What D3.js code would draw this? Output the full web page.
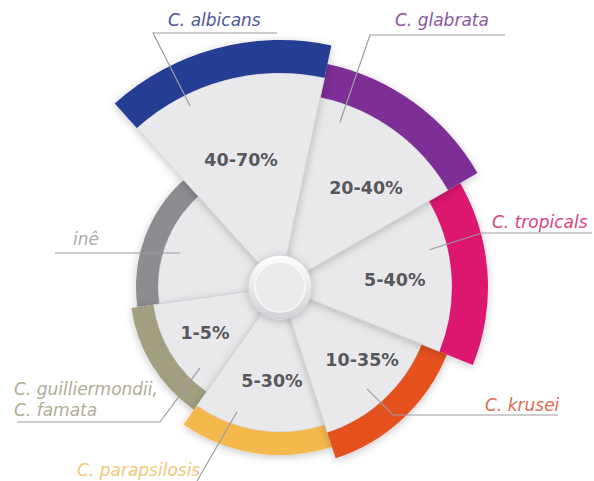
<!DOCTYPE html>
<html lang="sk">
<head>
<meta charset="utf-8">
<title>Candida</title>
<script src="https://cdn.jsdelivr.net/npm/d3@7"></script>
<style>
  html, body { margin: 0; padding: 0; background: #fff; }
  svg { display: block; }
  .pct { font-family: "DejaVu Sans"; font-weight: bold; font-size: 17.5px; fill: #58585c; }
  .name { font-family: "DejaVu Sans"; font-style: italic; font-weight: 300; font-size: 17px; }
  .leader { stroke: #9c9ca0; stroke-width: 1.2; fill: none; }
</style>
</head>
<body>
<svg width="594" height="481"></svg>
<script>
// --- data ---
const species = ["C. albicans", "C. glabrata", "C. tropicals", "C. krusei",
                 "C. parapsilosis", "C. guilliermondii,|C. famata", "inê"];
const ranges = ["40-70%", "20-40%", "5-40%", "10-35%", "5-30%", "1-5%", ""];
// slice bounds, degrees clockwise from 12 o'clock
const startDeg = [-42, 12, 60, 112, 162, 215, 262];
const endDeg   = [12, 60, 112, 162, 215, 262, 318];
// ring edges in radial units (0..100)
const ringOuter = [98.8, 91.2, 83.2, 72, 67.2, 60, 57.6];
const ringInner = [85.6, 77.6, 68.8, 61.2, 58, 51.2, 48.8];
const ringColor = ["#263e94", "#7d2d97", "#dd1470", "#e4511e", "#f5b84e", "#a29e80", "#8b8d90"];
const nameColor = ["#4b5597", "#8a56a0", "#d8427f", "#e06a4e", "#f0c878", "#b0ac95", "#a9abae"];

// --- layout of the annotations ---
const cx = 280, cy = 287;
const labelDeg = [-17, 41, 86.5, 131.7, 184.9, 238.5, 0];
const labelR   = [53.2, 52.4, 46, 44, 37.6, 35.2, 0];
const nameAt = [[168, 26], [395, 26], [492, 228], [485, 411], [77, 476], [14, 395], [73, 245]];
const elbow  = [[153, 33], [370, 35], [482, 233], [393, 415], [197, 481], [160, 422], [180, 253]];
const runTo  = [277, 505, 592, 558, null, 17, 55];
const pointerDeg = [-26.4, 20, 76, 139.5, 199, 224.6, 288.8];
const pointerR   = [80.8, 70, 61.6, 53.6, 52.8, 45.6, 42.4];

const svg = d3.select("svg");
const r = d3.scaleLinear().domain([0, 100]).range([0, 250]);
const ang = d3.scaleLinear().domain([0, 360]).range([0, 2 * Math.PI]);

const defs = svg.append("defs");
const sh = defs.append("filter").attr("id", "shadow")
  .attr("x", "-30%").attr("y", "-30%").attr("width", "160%").attr("height", "160%");
sh.append("feDropShadow").attr("dx", 0).attr("dy", 2).attr("stdDeviation", 4)
  .attr("flood-color", "#000").attr("flood-opacity", 0.22);

const btn = defs.append("linearGradient").attr("id", "btn")
  .attr("x1", 0).attr("y1", 0).attr("x2", 0).attr("y2", 1);
btn.append("stop").attr("offset", "0%").attr("stop-color", "#ffffff");
btn.append("stop").attr("offset", "100%").attr("stop-color", "#d2d2d6");

const g = svg.append("g").attr("transform", `translate(${cx},${cy})`);

const slices = species.map((s, i) => ({
  i: i,
  a0: ang(startDeg[i]),
  a1: ang(endDeg[i]),
  inner: r(ringInner[i]),
  outer: r(ringOuter[i])
}));

// draw from the smallest ring up so the big slices sit on top
const order = d3.range(slices.length).reverse();
const arc = d3.arc();

order.forEach(i => {
  const d = slices[i];
  const sg = g.append("g").attr("filter", "url(#shadow)");
  sg.append("path")
    .attr("d", arc({innerRadius: 0, outerRadius: d.inner, startAngle: d.a0, endAngle: d.a1}))
    .attr("fill", "#e9e9ec")
    .attr("stroke", "#cfcfd3")
    .attr("stroke-width", 0.8);
  sg.append("path")
    .attr("d", arc({innerRadius: d.inner, outerRadius: d.outer, startAngle: d.a0, endAngle: d.a1}))
    .attr("fill", ringColor[i]);
});

// percentage labels
slices.forEach(d => {
  if (!ranges[d.i]) return;
  const p = d3.pointRadial(ang(labelDeg[d.i]), r(labelR[d.i]));
  g.append("text").attr("class", "pct")
    .attr("x", p[0]).attr("y", p[1])
    .attr("text-anchor", "middle")
    .attr("dominant-baseline", "central")
    .text(ranges[d.i]);
});

// centre button
g.append("circle").attr("r", 32).attr("fill", "url(#btn)")
  .attr("stroke", "#d0d0d4").attr("filter", "url(#shadow)");
g.append("circle").attr("r", 25).attr("fill", "#ebebee")
  .attr("stroke", "#f9f9f9").attr("stroke-width", 1.5);

// leaders and names
species.forEach((s, i) => {
  const p = d3.pointRadial(ang(pointerDeg[i]), r(pointerR[i]));
  const tip = [cx + p[0], cy + p[1]];
  const pts = [];
  if (runTo[i] !== null) pts.push([runTo[i], elbow[i][1]]);
  pts.push(elbow[i], tip);
  svg.append("path").attr("class", "leader").attr("d", d3.line()(pts));

  const t = svg.append("text").attr("class", "name")
    .attr("x", nameAt[i][0]).attr("y", nameAt[i][1])
    .attr("fill", nameColor[i]);
  s.split("|").forEach((line, k) => {
    t.append("tspan").attr("x", nameAt[i][0]).attr("dy", k ? 21 : 0).text(line);
  });
});
</script>
</body>
</html>
